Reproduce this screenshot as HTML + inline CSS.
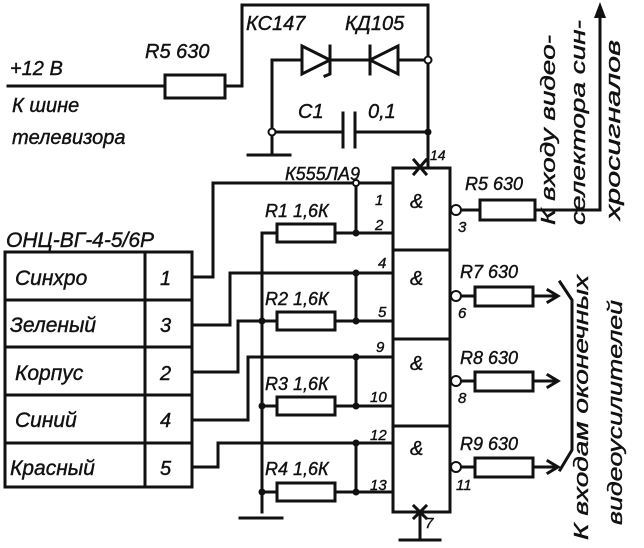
<!DOCTYPE html>
<html><head><meta charset="utf-8"><style>
html,body{margin:0;padding:0;background:#fff}
svg{display:block}
text{font-family:"Liberation Sans",sans-serif;font-style:italic;fill:#111;stroke:#111;stroke-width:0.4}
</style></head><body>
<svg width="644" height="548" viewBox="0 0 644 548" xmlns="http://www.w3.org/2000/svg">
<g stroke="#111" stroke-width="3" fill="none" stroke-linecap="square">
<path d="M8 86H165M225 86H242V5H428V167"/>
<rect x="165" y="75" width="60" height="23" fill="#fff"/>
<path d="M272 60H428M272 60V132H343M355 132H428M272 132V155M248 155H290" />
<path d="M343 113V147M355 113V147"/>
<path d="M302 46L330 60L302 74Z" fill="#fff"/><path d="M330 46V74L325 76"/>
<path d="M398 46L370 60L398 74Z" fill="#fff"/><path d="M370 46V74"/>
<rect x="393" y="168" width="57" height="344"/>
<path d="M393 250H450M393 339H450M393 426H450"/>
<path d="M414 160L426 174M426 160L414 174M414 506L426 518M426 506L414 518"/>
<path d="M420 512V540M400 540H440"/>
<path d="M213 183H393M356 183V233M335 233H393M262 233H277M262 233V512M240 518H282"/>
<path d="M230 273H393M356 273V321M335 321H393M238 321H277"/>
<path d="M248 357H393M356 357V406M335 406H393M262 406H277"/>
<path d="M218 443H393M356 443V492M335 492H393M262 492H277"/>
<rect x="277" y="224" width="58" height="18" fill="#fff"/>
<rect x="277" y="312" width="58" height="18" fill="#fff"/>
<rect x="277" y="397" width="58" height="18" fill="#fff"/>
<rect x="277" y="483" width="58" height="18" fill="#fff"/>
<path d="M192 277H213V183M192 325H230V273M192 372H238V321M192 420H248V357M192 467H218V443"/>
<rect x="5" y="252" width="187" height="235"/>
<path d="M145 252V487M5 300H192M5 347H192M5 395H192M5 443H192"/>
<path d="M456 210H480M535 210H600V15"/>
<path d="M456 296H475M533 296H555M456 381H475M533 381H555M456 467H475M533 467H555"/>
<path d="M548 290L558 296L548 302M548 375L558 381L548 387M548 461L558 467L548 473"/>
<path d="M560 282L572 300V450L560 470"/>
<rect x="480" y="200" width="55" height="20" fill="#fff"/>
<rect x="475" y="287" width="58" height="19" fill="#fff"/>
<rect x="475" y="372" width="58" height="19" fill="#fff"/>
<rect x="475" y="458" width="58" height="19" fill="#fff"/>
</g>
<path d="M600 2L594 18H606Z" fill="#111"/>
<g fill="#fff" stroke="#111" stroke-width="2">
<circle cx="456" cy="210" r="5"/><circle cx="456" cy="296" r="5"/><circle cx="456" cy="381" r="5"/><circle cx="456" cy="467" r="5"/>
<circle cx="428" cy="60" r="3.5"/><circle cx="272" cy="132" r="3.5"/><circle cx="356" cy="183" r="3"/>
</g>
<g fill="#111">
<circle cx="428" cy="132" r="3.5"/><circle cx="356" cy="233" r="3.5"/><circle cx="356" cy="273" r="3.5"/><circle cx="356" cy="321" r="3.5"/>
<circle cx="262" cy="321" r="3.5"/><circle cx="356" cy="357" r="3.5"/><circle cx="356" cy="406" r="3.5"/><circle cx="262" cy="406" r="3.5"/>
<circle cx="356" cy="443" r="3.5"/><circle cx="356" cy="492" r="3.5"/><circle cx="262" cy="492" r="3.5"/>
</g>
<g font-size="20">
<text x="10" y="75">+12 В</text>
<text x="145" y="58">R5 630</text>
<text x="12" y="112">К шине</text>
<text x="12" y="144">телевизора</text>
<text x="246" y="30">КС147</text>
<text x="345" y="30">КД105</text>
<text x="298" y="118">С1</text>
<text x="368" y="118">0,1</text>
<text x="285" y="180" font-size="18">К555ЛА9</text>
<text x="430" y="160" font-size="14">14</text>
<text x="6" y="247" font-size="21">ОНЦ-ВГ-4-5/6Р</text>
<text x="15" y="285" font-size="21">Синхро</text><text x="160" y="285">1</text>
<text x="10" y="332" font-size="21">Зеленый</text><text x="160" y="332">3</text>
<text x="15" y="380" font-size="21">Корпус</text><text x="160" y="380">2</text>
<text x="15" y="427" font-size="21">Синий</text><text x="160" y="427">4</text>
<text x="10" y="475" font-size="21">Красный</text><text x="160" y="475">5</text>
<text x="265" y="217" font-size="18">R1 1,6К</text>
<text x="265" y="305" font-size="18">R2 1,6К</text>
<text x="265" y="390" font-size="18">R3 1,6К</text>
<text x="265" y="475" font-size="18">R4 1,6К</text>
<text x="465" y="190" font-size="18">R5 630</text>
<text x="460" y="278" font-size="18">R7 630</text>
<text x="460" y="364" font-size="18">R8 630</text>
<text x="460" y="450" font-size="18">R9 630</text>
<text x="410" y="208">&amp;</text><text x="410" y="285">&amp;</text><text x="410" y="370">&amp;</text><text x="410" y="455">&amp;</text>
<g font-size="15">
<text x="375" y="205">1</text><text x="375" y="230">2</text><text x="378" y="268">4</text><text x="378" y="317">5</text>
<text x="376" y="352">9</text><text x="370" y="402">10</text><text x="370" y="440">12</text><text x="370" y="490">13</text>
<text x="458" y="232">3</text><text x="458" y="318">6</text><text x="458" y="403">8</text><text x="456" y="490">11</text>
<text x="425" y="528">7</text>
</g>
<text transform="translate(555,225) rotate(-90)" font-size="20" textLength="190" lengthAdjust="spacingAndGlyphs">К входу видео-</text>
<text transform="translate(585,225) rotate(-90)" font-size="20" textLength="205" lengthAdjust="spacingAndGlyphs">селектора син-</text>
<text transform="translate(620,220) rotate(-90)" font-size="20" textLength="180" lengthAdjust="spacingAndGlyphs">хросигналов</text>
<text transform="translate(588,540) rotate(-90)" font-size="20" textLength="265" lengthAdjust="spacingAndGlyphs">К входам оконечных</text>
<text transform="translate(622,525) rotate(-90)" font-size="20" textLength="225" lengthAdjust="spacingAndGlyphs">видеоусилителей</text>
</g>
</svg>
</body></html>
